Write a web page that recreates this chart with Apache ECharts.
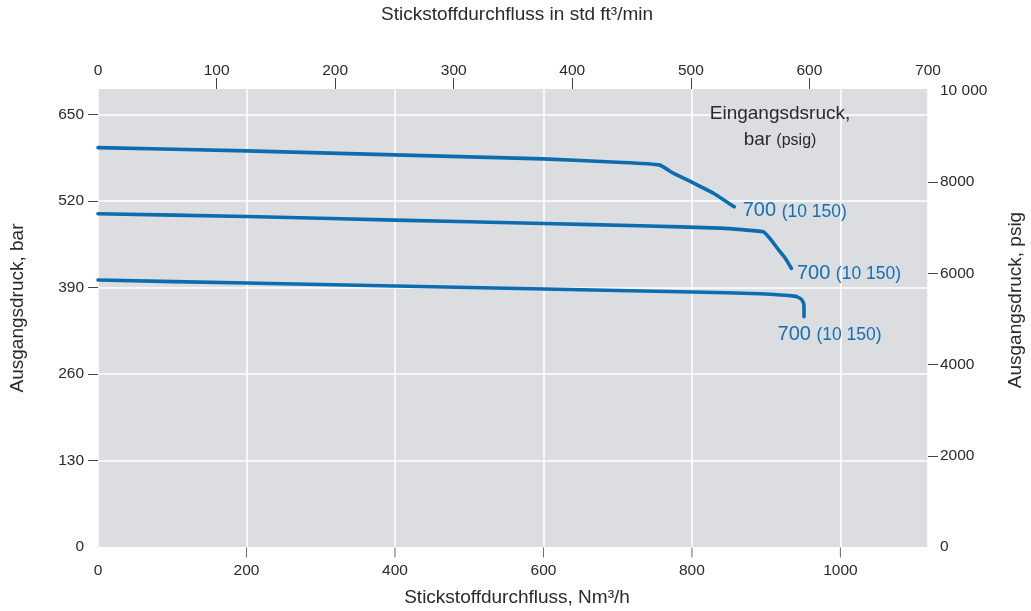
<!DOCTYPE html>
<html>
<head>
<meta charset="utf-8">
<script src="https://cdn.jsdelivr.net/npm/echarts@6/dist/echarts.min.js"></script>
<style>
html,body{margin:0;padding:0;background:#fff;}
#c{width:1031px;height:611px;}
</style>
</head>
<body>
<div id="c"></div>
<script>
// ---- data ----
// Nitrogen flow in Nm3/h (bottom axis) and outlet pressure in bar (left axis)
const flowTop    = [0, 200, 400, 600, 700, 756, 775, 801, 829, 857];
const pressTop   = [600, 595, 589, 583, 578, 574, 561.5, 547.5, 531.5, 511];
const flowMid    = [0, 200, 400, 600, 730, 838, 896, 905, 917, 926, 934];
const pressMid   = [500.5, 496.5, 491, 486, 482.5, 479, 473.5, 463.5, 446, 433.5, 418.5];
const flowLow    = [0, 200, 400, 600, 800, 892, 940, 947, 950.5, 951, 951];
const pressLow   = [401, 396.5, 392, 387.5, 383, 380.5, 376.5, 372.5, 366, 358, 346];
const curveLabelMain = '700';
const curveLabelSub  = '(10 150)';

// tick labels
const bottomTicks = [0, 200, 400, 600, 800, 1000];
const topTicks    = [0, 100, 200, 300, 400, 500, 600, 700];
const leftTicks   = [0, 130, 260, 390, 520, 650];
const rightTicks  = [0, 2000, 4000, 6000, 8000, 10000];
const rightTickText = ['0', '2000', '4000', '6000', '8000', '10 000'];

// axis ranges
const bottomMax = 1118;   // Nm3/h at right edge
const topMax = 700;       // std ft3/min at right edge
const leftMax = 688;      // bar at top edge
const rightMax = 10044;   // psig at top edge

const FONT = "'Liberation Sans', Arial, Helvetica, sans-serif";
const TXT = '#2a2a2a';
const BLUE = '#0b6db0';
const LBLUE = '#1470b2';

function zip(xs, ys){ return xs.map((x,i)=>[x, ys[i]]); }

const chart = echarts.init(document.getElementById('c'), null, {renderer:'canvas'});

function curve(name, xs, ys, offset){
  return {
    name: name, type: 'line', xAxisIndex: 0, yAxisIndex: 0,
    data: zip(xs, ys), symbol: 'none', smooth: 0.15, z: 5,
    lineStyle: {color: BLUE, width: 3.6, cap: 'round', join: 'round'},
    endLabel: {
      show: true, distance: 0, offset: offset,
      formatter: '{a|' + curveLabelMain + ' }{b|' + curveLabelSub + '}',
      rich: {
        a: {fontSize: 20, fontFamily: FONT, color: LBLUE, lineHeight: 22, verticalAlign: 'bottom'},
        b: {fontSize: 17.5, fontFamily: FONT, color: LBLUE, lineHeight: 22, verticalAlign: 'bottom'}
      }
    },
    animation: false
  };
}

const tickStyle = {color: '#444', width: 1};
const plain = function(v){ return String(v); };

const option = {
  animation: false,
  backgroundColor: '#ffffff',
  textStyle: {fontFamily: FONT},
  grid: {left: 98, right: 103, top: 89, bottom: 64, show: true, backgroundColor: '#dcdde0', borderWidth: 0, containLabel: false},
  xAxis: [
    {
      type: 'value', position: 'bottom', min: 0, max: bottomMax, interval: 200,
      axisLine: {show: false, onZero: false},
      axisTick: {show: false},
      axisLabel: {customValues: bottomTicks, margin: 16, fontSize: 15.5, color: TXT, fontFamily: FONT, formatter: plain},
      splitLine: {show: true, lineStyle: {color: '#ffffff', width: 1.5}}
    },
    {
      type: 'value', position: 'top', min: 0, max: topMax, interval: 100,
      axisLine: {show: false, onZero: false},
      axisTick: {show: true, inside: false, length: 11, customValues: topTicks.slice(1, topTicks.length - 1), lineStyle: tickStyle},
      axisLabel: {customValues: topTicks, margin: 10, fontSize: 15.5, color: TXT, fontFamily: FONT, formatter: plain},
      splitLine: {show: false}
    }
  ],
  yAxis: [
    {
      type: 'value', position: 'left', min: 0, max: leftMax, interval: 130,
      axisLine: {show: false, onZero: false},
      axisTick: {show: true, inside: false, length: 10, customValues: leftTicks.slice(1), lineStyle: tickStyle},
      axisLabel: {customValues: leftTicks, margin: 14, fontSize: 15.5, color: TXT, fontFamily: FONT, formatter: plain},
      splitLine: {show: true, lineStyle: {color: '#ffffff', width: 1.5}}
    },
    {
      type: 'value', position: 'right', min: 0, max: rightMax, interval: 2000,
      axisLine: {show: false, onZero: false},
      axisTick: {show: true, inside: false, length: 10, customValues: rightTicks.slice(1, rightTicks.length - 1), lineStyle: tickStyle},
      axisLabel: {customValues: rightTicks, margin: 12, fontSize: 15.5, color: TXT, fontFamily: FONT,
        formatter: function(v){ const i = rightTicks.indexOf(v); return i >= 0 ? rightTickText[i] : String(v); }},
      splitLine: {show: false}
    }
  ],
  graphic: [
    {type: 'text', z: 100, x: 517, y: 15, style: {text: 'Stickstoffdurchfluss in std ft³/min', font: '19px ' + FONT, fill: TXT, align: 'center', verticalAlign: 'middle'}},
    {type: 'text', z: 100, x: 517, y: 598, style: {text: 'Stickstoffdurchfluss, Nm³/h', font: '19px ' + FONT, fill: TXT, align: 'center', verticalAlign: 'middle'}},
    {type: 'text', z: 100, x: 18, y: 308, rotation: Math.PI/2, style: {text: 'Ausgangsdruck, bar', font: '19px ' + FONT, fill: TXT, align: 'center', verticalAlign: 'middle'}},
    {type: 'text', z: 100, x: 1016, y: 300, rotation: Math.PI/2, style: {text: 'Ausgangsdruck, psig', font: '19px ' + FONT, fill: TXT, align: 'center', verticalAlign: 'middle'}},
    {type: 'text', z: 100, x: 780, y: 114, style: {text: 'Eingangsdsruck,', font: '19px ' + FONT, fill: TXT, align: 'center', verticalAlign: 'middle'}},
    {type: 'text', z: 100, x: 780, y: 138, style: {text: '{m|bar }{s|(psig)}', align: 'center', verticalAlign: 'middle',
      rich: {m: {fontSize: 19, fontFamily: FONT, fill: TXT, color: TXT, lineHeight: 22, verticalAlign: 'bottom'},
             s: {fontSize: 16, fontFamily: FONT, fill: TXT, color: TXT, lineHeight: 22, verticalAlign: 'bottom'}}}}
  ],
  series: [
    curve('Kurve 1', flowTop, pressTop, [8.5, 3]),
    curve('Kurve 2', flowMid, pressMid, [5.5, 4]),
    curve('Kurve 3', flowLow, pressLow, [-26.5, 16.5]),
    {
      // tick marks of the bottom axis, placed by the axis scale at the tick values
      name: 'Skalenstriche', type: 'scatter', xAxisIndex: 0, yAxisIndex: 0,
      data: bottomTicks.slice(1).map(v => [v, 0]),
      symbol: 'rect', symbolSize: [1, 10], symbolOffset: [0, 5.5],
      itemStyle: {color: '#444'}, clip: false, silent: true, z: 10,
      emphasis: {disabled: true}, animation: false
    }
  ]
};
chart.setOption(option);
</script>
</body>
</html>
